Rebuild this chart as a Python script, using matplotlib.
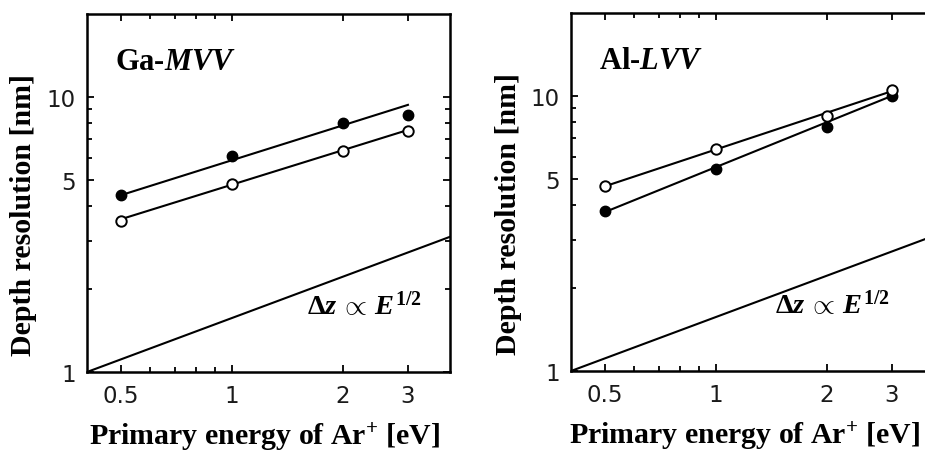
import matplotlib
matplotlib.use('Agg')
import matplotlib.pyplot as plt
from matplotlib.ticker import FixedLocator, FixedFormatter, NullFormatter

plt.rcParams['mathtext.fontset'] = 'custom'
plt.rcParams['mathtext.rm'] = 'Liberation Serif:bold'
plt.rcParams['mathtext.it'] = 'Liberation Serif:italic:bold'
plt.rcParams['mathtext.bf'] = 'Liberation Serif:bold'

# ---- data ----
energy = [0.5, 1, 2, 3]
ga_filled = [4.39, 6.09, 8.04, 8.6]
ga_open = [3.53, 4.81, 6.35, 7.51]
al_open = [4.69, 6.41, 8.45, 10.5]
al_filled = [3.80, 5.42, 7.71, 10.0]

fit_x = [0.5, 3]
ga_fit_filled = [4.39, 9.35]
ga_fit_open = [3.59, 7.58]
al_fit_open = [4.69, 10.4]
al_fit_filled = [3.78, 10.0]

ref_x = [0.405, 3.9]
ref_y = [1.0, 3.1]

xtick_major = [0.5, 1, 2, 3]
xtick_labels = ['0.5', '1', '2', '3']
xtick_minor = [0.6, 0.7, 0.8, 0.9]
ytick_major = [1, 5, 10]
ytick_labels = ['1', '5', '10']
ytick_minor = [2, 3, 4, 6, 7, 8, 9]

panel_titles = ['Ga-$MVV$', 'Al-$LVV$']
xlabel = 'Primary energy of Ar$^{+}$ [eV]'
ylabel = 'Depth resolution [nm]'
ref_label = r'$\Delta z\,\propto\,E^{1/2}$'

W, H = 925, 452
fig = plt.figure(figsize=(W / 100, H / 100), dpi=100)

serif = ['Liberation Serif', 'DejaVu Serif']


def make_panel(left_px, bottom_px, filled, opn, fit_f, fit_o, title, ref_pos, xlab_x):
    ax = fig.add_axes([left_px / W, (H - bottom_px) / H, 363 / W, 358 / H])
    ax.set_xscale('log')
    ax.set_yscale('log')
    ax.set_xlim(0.405, 3.9)
    ax.set_ylim(1, 20)

    ax.plot(ref_x, ref_y, color='black', lw=1.5, zorder=2)
    ax.plot(fit_x, fit_f, color='black', lw=1.5, zorder=2)
    ax.plot(fit_x, fit_o, color='black', lw=1.5, zorder=2)
    ax.plot(energy, filled, 'o', ms=7.5, mfc='black', mec='black', zorder=3)
    ax.plot(energy, opn, 'o', ms=7.5, mfc='white', mec='black', mew=1.4, zorder=3)

    ax.xaxis.set_major_locator(FixedLocator(xtick_major))
    ax.xaxis.set_major_formatter(FixedFormatter(xtick_labels))
    ax.xaxis.set_minor_locator(FixedLocator(xtick_minor))
    ax.xaxis.set_minor_formatter(NullFormatter())
    ax.yaxis.set_major_locator(FixedLocator(ytick_major))
    ax.yaxis.set_major_formatter(FixedFormatter(ytick_labels))
    ax.yaxis.set_minor_locator(FixedLocator(ytick_minor))
    ax.yaxis.set_minor_formatter(NullFormatter())

    ax.tick_params(which='both', direction='in', top=True, right=True,
                   width=1.3, color='black')
    ax.tick_params(which='major', length=5)
    ax.tick_params(which='minor', length=3.5)
    ax.tick_params(axis='x', which='major', pad=9, labelsize=16.5)
    ax.tick_params(axis='y', which='major', pad=8, labelsize=16.5)
    for lab in ax.get_xticklabels() + ax.get_yticklabels():
        lab.set_fontfamily('DejaVu Sans')
        lab.set_color('#1a1a1a')

    for sp in ax.spines.values():
        sp.set_linewidth(1.8)

    ax.set_xlabel(xlabel, fontsize=21.5, fontweight='bold', family=serif, va='baseline')
    ax.xaxis.set_label_coords(xlab_x, (373 - 445) / 358)
    ax.set_ylabel(ylabel, fontsize=21.5, fontweight='bold', family=serif,
                  va='center', ha='center')
    ax.yaxis.set_label_coords((24 - 87) / 363, (373 - 215) / 358)

    ax.text(0.077, 0.846, title, transform=ax.transAxes, fontsize=22,
            fontweight='bold', family=serif, va='baseline', ha='left')
    ax.text(ref_pos, 0.162, ref_label, transform=ax.transAxes, fontsize=20.5,
            fontweight='bold', family=serif, va='baseline', ha='left')
    return ax


make_panel(87, 373, ga_filled, ga_open, ga_fit_filled, ga_fit_open,
           panel_titles[0], 0.606, 0.49)
make_panel(571, 372, al_filled, al_open, al_fit_filled, al_fit_open,
           panel_titles[1], 0.562, 0.477)

fig.savefig('out.png', dpi=100, facecolor='white')
